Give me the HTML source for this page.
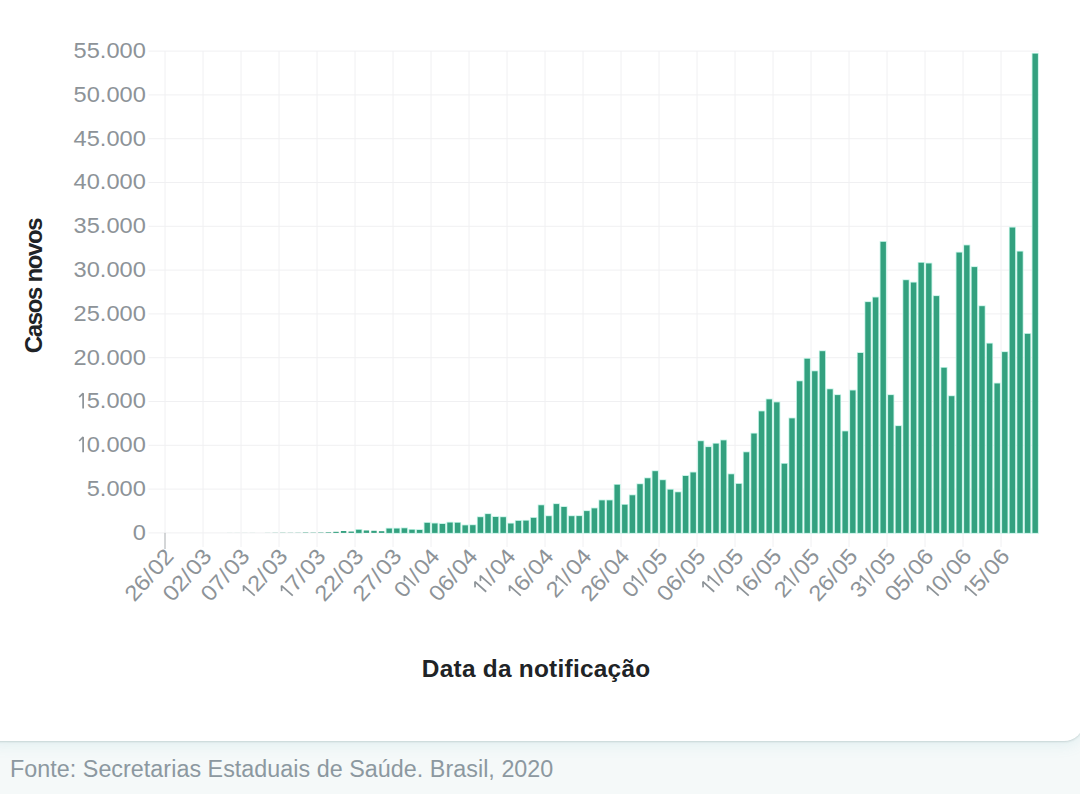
<!DOCTYPE html><html><head><meta charset="utf-8"><style>
html,body{margin:0;padding:0;width:1080px;height:794px;overflow:hidden;background:#f5f9f9;}
body{position:relative;font-family:"Liberation Sans",sans-serif;}
.card{position:absolute;left:-20px;top:-20px;width:1103.9px;height:761.2px;background:#fff;border-radius:20px;box-shadow:0 1px 2px rgba(70,100,100,0.2),0 5px 14px rgba(80,170,180,0.10);}
svg{position:absolute;left:0;top:0;}
</style></head><body><div class="card"></div>
<svg width="1080" height="794" viewBox="0 0 1080 794">
<g stroke="#f0f0f2" stroke-width="1" fill="none">
<line x1="148.5" y1="51.10" x2="1039.00" y2="51.10"/>
<line x1="148.5" y1="94.90" x2="1039.00" y2="94.90"/>
<line x1="148.5" y1="138.70" x2="1039.00" y2="138.70"/>
<line x1="148.5" y1="182.50" x2="1039.00" y2="182.50"/>
<line x1="148.5" y1="226.30" x2="1039.00" y2="226.30"/>
<line x1="148.5" y1="270.10" x2="1039.00" y2="270.10"/>
<line x1="148.5" y1="313.90" x2="1039.00" y2="313.90"/>
<line x1="148.5" y1="357.70" x2="1039.00" y2="357.70"/>
<line x1="148.5" y1="401.50" x2="1039.00" y2="401.50"/>
<line x1="148.5" y1="445.30" x2="1039.00" y2="445.30"/>
<line x1="148.5" y1="489.10" x2="1039.00" y2="489.10"/>
<line x1="148.5" y1="532.90" x2="1039.00" y2="532.90"/>
<line x1="165.00" y1="51.10" x2="165.00" y2="532.90"/>
<line x1="203.00" y1="51.10" x2="203.00" y2="547.00"/>
<line x1="241.00" y1="51.10" x2="241.00" y2="547.00"/>
<line x1="279.00" y1="51.10" x2="279.00" y2="547.00"/>
<line x1="317.00" y1="51.10" x2="317.00" y2="547.00"/>
<line x1="355.00" y1="51.10" x2="355.00" y2="547.00"/>
<line x1="393.00" y1="51.10" x2="393.00" y2="547.00"/>
<line x1="431.00" y1="51.10" x2="431.00" y2="547.00"/>
<line x1="469.00" y1="51.10" x2="469.00" y2="547.00"/>
<line x1="507.00" y1="51.10" x2="507.00" y2="547.00"/>
<line x1="545.00" y1="51.10" x2="545.00" y2="547.00"/>
<line x1="583.00" y1="51.10" x2="583.00" y2="547.00"/>
<line x1="621.00" y1="51.10" x2="621.00" y2="547.00"/>
<line x1="659.00" y1="51.10" x2="659.00" y2="547.00"/>
<line x1="697.00" y1="51.10" x2="697.00" y2="547.00"/>
<line x1="735.00" y1="51.10" x2="735.00" y2="547.00"/>
<line x1="773.00" y1="51.10" x2="773.00" y2="547.00"/>
<line x1="811.00" y1="51.10" x2="811.00" y2="547.00"/>
<line x1="849.00" y1="51.10" x2="849.00" y2="547.00"/>
<line x1="887.00" y1="51.10" x2="887.00" y2="547.00"/>
<line x1="925.00" y1="51.10" x2="925.00" y2="547.00"/>
<line x1="963.00" y1="51.10" x2="963.00" y2="547.00"/>
<line x1="1001.00" y1="51.10" x2="1001.00" y2="547.00"/>
</g>
<line x1="165.00" y1="532.90" x2="165.00" y2="549" stroke="#a9adb0" stroke-width="1"/>
<g fill="#33a17f" stroke="#bff2e4" stroke-width="1.6" paint-order="stroke">
<rect x="166.10" y="532.89" width="5.40" height="0.01" stroke="none"/>
<rect x="188.90" y="532.89" width="5.40" height="0.01" stroke="none"/>
<rect x="219.30" y="532.89" width="5.40" height="0.01" stroke="none"/>
<rect x="226.90" y="532.86" width="5.40" height="0.04" stroke="none"/>
<rect x="234.50" y="532.86" width="5.40" height="0.04" stroke="none"/>
<rect x="242.10" y="532.85" width="5.40" height="0.05" stroke="none"/>
<rect x="249.70" y="532.85" width="5.40" height="0.05" stroke="none"/>
<rect x="264.90" y="532.82" width="5.40" height="0.08" stroke="none"/>
<rect x="272.50" y="532.74" width="5.40" height="0.16" stroke="none"/>
<rect x="280.10" y="532.68" width="5.40" height="0.22" stroke="none"/>
<rect x="287.70" y="532.72" width="5.40" height="0.18" stroke="none"/>
<rect x="295.30" y="532.70" width="5.40" height="0.20" stroke="none"/>
<rect x="302.90" y="532.50" width="5.40" height="0.40" stroke="none"/>
<rect x="310.50" y="532.60" width="5.40" height="0.30" stroke="none"/>
<rect x="318.10" y="532.50" width="5.40" height="0.40" stroke="none"/>
<rect x="325.70" y="532.30" width="5.40" height="0.60" stroke="none"/>
<rect x="333.30" y="531.81" width="5.40" height="1.09" stroke="none"/>
<rect x="340.90" y="531.02" width="5.40" height="1.88" stroke="none"/>
<rect x="348.50" y="531.54" width="5.40" height="1.36" stroke="none"/>
<rect x="356.10" y="529.84" width="5.40" height="3.06"/>
<rect x="363.70" y="530.48" width="5.40" height="2.42" stroke="none"/>
<rect x="371.30" y="530.78" width="5.40" height="2.12" stroke="none"/>
<rect x="378.90" y="531.20" width="5.40" height="1.70" stroke="none"/>
<rect x="386.50" y="528.60" width="5.40" height="4.30"/>
<rect x="394.10" y="528.60" width="5.40" height="4.30"/>
<rect x="401.70" y="528.30" width="5.40" height="4.60"/>
<rect x="409.30" y="529.80" width="5.40" height="3.10"/>
<rect x="416.90" y="530.00" width="5.40" height="2.90"/>
<rect x="424.50" y="522.90" width="5.40" height="10.00"/>
<rect x="432.10" y="523.50" width="5.40" height="9.40"/>
<rect x="439.70" y="524.00" width="5.40" height="8.90"/>
<rect x="447.30" y="522.60" width="5.40" height="10.30"/>
<rect x="454.90" y="522.80" width="5.40" height="10.10"/>
<rect x="462.50" y="525.40" width="5.40" height="7.50"/>
<rect x="470.10" y="525.20" width="5.40" height="7.70"/>
<rect x="477.70" y="517.20" width="5.40" height="15.70"/>
<rect x="485.30" y="514.10" width="5.40" height="18.80"/>
<rect x="492.90" y="517.00" width="5.40" height="15.90"/>
<rect x="500.50" y="517.20" width="5.40" height="15.70"/>
<rect x="508.10" y="523.60" width="5.40" height="9.30"/>
<rect x="515.70" y="520.90" width="5.40" height="12.00"/>
<rect x="523.30" y="520.70" width="5.40" height="12.20"/>
<rect x="530.90" y="517.90" width="5.40" height="15.00"/>
<rect x="538.50" y="505.30" width="5.40" height="27.60"/>
<rect x="546.10" y="516.20" width="5.40" height="16.70"/>
<rect x="553.70" y="504.10" width="5.40" height="28.80"/>
<rect x="561.30" y="507.00" width="5.40" height="25.90"/>
<rect x="568.90" y="516.20" width="5.40" height="16.70"/>
<rect x="576.50" y="516.10" width="5.40" height="16.80"/>
<rect x="584.10" y="511.10" width="5.40" height="21.80"/>
<rect x="591.70" y="508.40" width="5.40" height="24.50"/>
<rect x="599.30" y="500.40" width="5.40" height="32.50"/>
<rect x="606.90" y="500.40" width="5.40" height="32.50"/>
<rect x="614.50" y="484.80" width="5.40" height="48.10"/>
<rect x="622.10" y="504.80" width="5.40" height="28.10"/>
<rect x="629.70" y="495.30" width="5.40" height="37.60"/>
<rect x="637.30" y="484.20" width="5.40" height="48.70"/>
<rect x="644.90" y="478.30" width="5.40" height="54.60"/>
<rect x="652.50" y="471.20" width="5.40" height="61.70"/>
<rect x="660.10" y="480.20" width="5.40" height="52.70"/>
<rect x="667.70" y="489.70" width="5.40" height="43.20"/>
<rect x="675.30" y="492.30" width="5.40" height="40.60"/>
<rect x="682.90" y="476.00" width="5.40" height="56.90"/>
<rect x="690.50" y="472.50" width="5.40" height="60.40"/>
<rect x="698.10" y="441.20" width="5.40" height="91.70"/>
<rect x="705.70" y="447.10" width="5.40" height="85.80"/>
<rect x="713.30" y="443.70" width="5.40" height="89.20"/>
<rect x="720.90" y="440.40" width="5.40" height="92.50"/>
<rect x="728.50" y="474.30" width="5.40" height="58.60"/>
<rect x="736.10" y="483.90" width="5.40" height="49.00"/>
<rect x="743.70" y="452.30" width="5.40" height="80.60"/>
<rect x="751.30" y="433.60" width="5.40" height="99.30"/>
<rect x="758.90" y="411.40" width="5.40" height="121.50"/>
<rect x="766.50" y="399.40" width="5.40" height="133.50"/>
<rect x="774.10" y="402.40" width="5.40" height="130.50"/>
<rect x="781.70" y="463.80" width="5.40" height="69.10"/>
<rect x="789.30" y="418.40" width="5.40" height="114.50"/>
<rect x="796.90" y="381.30" width="5.40" height="151.60"/>
<rect x="804.50" y="358.80" width="5.40" height="174.10"/>
<rect x="812.10" y="371.30" width="5.40" height="161.60"/>
<rect x="819.70" y="351.20" width="5.40" height="181.70"/>
<rect x="827.30" y="389.30" width="5.40" height="143.60"/>
<rect x="834.90" y="395.10" width="5.40" height="137.80"/>
<rect x="842.50" y="431.40" width="5.40" height="101.50"/>
<rect x="850.10" y="390.50" width="5.40" height="142.40"/>
<rect x="857.70" y="353.00" width="5.40" height="179.90"/>
<rect x="865.30" y="302.10" width="5.40" height="230.80"/>
<rect x="872.90" y="297.50" width="5.40" height="235.40"/>
<rect x="880.50" y="241.90" width="5.40" height="291.00"/>
<rect x="888.10" y="395.10" width="5.40" height="137.80"/>
<rect x="895.70" y="426.10" width="5.40" height="106.80"/>
<rect x="903.30" y="280.20" width="5.40" height="252.70"/>
<rect x="910.90" y="282.60" width="5.40" height="250.30"/>
<rect x="918.50" y="262.80" width="5.40" height="270.10"/>
<rect x="926.10" y="263.50" width="5.40" height="269.40"/>
<rect x="933.70" y="296.10" width="5.40" height="236.80"/>
<rect x="941.30" y="367.80" width="5.40" height="165.10"/>
<rect x="948.90" y="396.20" width="5.40" height="136.70"/>
<rect x="956.50" y="252.60" width="5.40" height="280.30"/>
<rect x="964.10" y="245.40" width="5.40" height="287.50"/>
<rect x="971.70" y="267.10" width="5.40" height="265.80"/>
<rect x="979.30" y="306.20" width="5.40" height="226.70"/>
<rect x="986.90" y="343.60" width="5.40" height="189.30"/>
<rect x="994.50" y="383.50" width="5.40" height="149.40"/>
<rect x="1002.10" y="352.10" width="5.40" height="180.80"/>
<rect x="1009.70" y="227.60" width="5.40" height="305.30"/>
<rect x="1017.30" y="251.60" width="5.40" height="281.30"/>
<rect x="1024.90" y="333.90" width="5.40" height="199.00"/>
<rect x="1032.50" y="53.70" width="5.40" height="479.20"/>
</g>
<g fill="#8d9398" font-family="Liberation Sans, sans-serif" font-size="22">
<g transform="translate(145.8 58.00) scale(1.073 1)"><text x="-67.29 -55.06 -42.82 -36.71 -24.47 -12.24" y="0.00">55.000</text></g>
<g transform="translate(145.8 101.80) scale(1.073 1)"><text x="-67.29 -55.06 -42.82 -36.71 -24.47 -12.24" y="0.00">50.000</text></g>
<g transform="translate(145.8 145.60) scale(1.073 1)"><text x="-67.29 -55.06 -42.82 -36.71 -24.47 -12.24" y="0.00">45.000</text></g>
<g transform="translate(145.8 189.40) scale(1.073 1)"><text x="-67.29 -55.06 -42.82 -36.71 -24.47 -12.24" y="0.00">40.000</text></g>
<g transform="translate(145.8 233.20) scale(1.073 1)"><text x="-67.29 -55.06 -42.82 -36.71 -24.47 -12.24" y="0.00">35.000</text></g>
<g transform="translate(145.8 277.00) scale(1.073 1)"><text x="-67.29 -55.06 -42.82 -36.71 -24.47 -12.24" y="0.00">30.000</text></g>
<g transform="translate(145.8 320.80) scale(1.073 1)"><text x="-67.29 -55.06 -42.82 -36.71 -24.47 -12.24" y="0.00">25.000</text></g>
<g transform="translate(145.8 364.60) scale(1.073 1)"><text x="-67.29 -55.06 -42.82 -36.71 -24.47 -12.24" y="0.00">20.000</text></g>
<g transform="translate(145.8 408.40) scale(1.073 1)"><text x="-55.06 -42.82 -36.71 -24.47 -12.24" y="0.00">5.000</text><path d="M-62.10 -11.26L-58.42 -15.14L-58.42 0.00" fill="none" stroke="#8d9398" stroke-width="1.60" stroke-linejoin="bevel"/></g>
<g transform="translate(145.8 452.20) scale(1.073 1)"><text x="-55.06 -42.82 -36.71 -24.47 -12.24" y="0.00">0.000</text><path d="M-62.10 -11.26L-58.42 -15.14L-58.42 0.00" fill="none" stroke="#8d9398" stroke-width="1.60" stroke-linejoin="bevel"/></g>
<g transform="translate(145.8 496.00) scale(1.073 1)"><text x="-55.06 -42.82 -36.71 -24.47 -12.24" y="0.00">5.000</text></g>
<g transform="translate(145.8 539.80) scale(1.073 1)"><text x="-12.24" y="0.00">0</text></g>
</g>
<g fill="#8d9398" font-family="Liberation Sans, sans-serif" font-size="22">
<g transform="translate(169.20 552) rotate(-48.5) scale(1.088 1)"><text x="-56.21 -43.97 -31.73 -24.47 -12.24" y="7.62">26/02</text></g>
<g transform="translate(207.20 552) rotate(-48.5) scale(1.088 1)"><text x="-56.21 -43.97 -31.73 -24.47 -12.24" y="7.62">02/03</text></g>
<g transform="translate(245.20 552) rotate(-48.5) scale(1.088 1)"><text x="-56.21 -43.97 -31.73 -24.47 -12.24" y="7.62">07/03</text></g>
<g transform="translate(283.20 552) rotate(-48.5) scale(1.088 1)"><text x="-43.97 -31.73 -24.47 -12.24" y="7.62">2/03</text><path d="M-51.01 -3.64L-47.34 -7.52L-47.34 7.62" fill="none" stroke="#8d9398" stroke-width="1.60" stroke-linejoin="bevel"/></g>
<g transform="translate(321.20 552) rotate(-48.5) scale(1.088 1)"><text x="-43.97 -31.73 -24.47 -12.24" y="7.62">7/03</text><path d="M-51.01 -3.64L-47.34 -7.52L-47.34 7.62" fill="none" stroke="#8d9398" stroke-width="1.60" stroke-linejoin="bevel"/></g>
<g transform="translate(359.20 552) rotate(-48.5) scale(1.088 1)"><text x="-56.21 -43.97 -31.73 -24.47 -12.24" y="7.62">22/03</text></g>
<g transform="translate(397.20 552) rotate(-48.5) scale(1.088 1)"><text x="-56.21 -43.97 -31.73 -24.47 -12.24" y="7.62">27/03</text></g>
<g transform="translate(435.20 552) rotate(-48.5) scale(1.088 1)"><text x="-51.45 -31.73 -24.47 -12.24" y="7.62">0/04</text><path d="M-38.77 -3.64L-35.10 -7.52L-35.10 7.62" fill="none" stroke="#8d9398" stroke-width="1.60" stroke-linejoin="bevel"/></g>
<g transform="translate(473.20 552) rotate(-48.5) scale(1.088 1)"><text x="-56.21 -43.97 -31.73 -24.47 -12.24" y="7.62">06/04</text></g>
<g transform="translate(511.20 552) rotate(-48.5) scale(1.088 1)"><text x="-31.73 -24.47 -12.24" y="7.62">/04</text><path d="M-46.25 -3.64L-42.58 -7.52L-42.58 7.62M-38.77 -3.64L-35.10 -7.52L-35.10 7.62" fill="none" stroke="#8d9398" stroke-width="1.60" stroke-linejoin="bevel"/></g>
<g transform="translate(549.20 552) rotate(-48.5) scale(1.088 1)"><text x="-43.97 -31.73 -24.47 -12.24" y="7.62">6/04</text><path d="M-51.01 -3.64L-47.34 -7.52L-47.34 7.62" fill="none" stroke="#8d9398" stroke-width="1.60" stroke-linejoin="bevel"/></g>
<g transform="translate(587.20 552) rotate(-48.5) scale(1.088 1)"><text x="-51.45 -31.73 -24.47 -12.24" y="7.62">2/04</text><path d="M-38.77 -3.64L-35.10 -7.52L-35.10 7.62" fill="none" stroke="#8d9398" stroke-width="1.60" stroke-linejoin="bevel"/></g>
<g transform="translate(625.20 552) rotate(-48.5) scale(1.088 1)"><text x="-56.21 -43.97 -31.73 -24.47 -12.24" y="7.62">26/04</text></g>
<g transform="translate(663.20 552) rotate(-48.5) scale(1.088 1)"><text x="-51.45 -31.73 -24.47 -12.24" y="7.62">0/05</text><path d="M-38.77 -3.64L-35.10 -7.52L-35.10 7.62" fill="none" stroke="#8d9398" stroke-width="1.60" stroke-linejoin="bevel"/></g>
<g transform="translate(701.20 552) rotate(-48.5) scale(1.088 1)"><text x="-56.21 -43.97 -31.73 -24.47 -12.24" y="7.62">06/05</text></g>
<g transform="translate(739.20 552) rotate(-48.5) scale(1.088 1)"><text x="-31.73 -24.47 -12.24" y="7.62">/05</text><path d="M-46.25 -3.64L-42.58 -7.52L-42.58 7.62M-38.77 -3.64L-35.10 -7.52L-35.10 7.62" fill="none" stroke="#8d9398" stroke-width="1.60" stroke-linejoin="bevel"/></g>
<g transform="translate(777.20 552) rotate(-48.5) scale(1.088 1)"><text x="-43.97 -31.73 -24.47 -12.24" y="7.62">6/05</text><path d="M-51.01 -3.64L-47.34 -7.52L-47.34 7.62" fill="none" stroke="#8d9398" stroke-width="1.60" stroke-linejoin="bevel"/></g>
<g transform="translate(815.20 552) rotate(-48.5) scale(1.088 1)"><text x="-51.45 -31.73 -24.47 -12.24" y="7.62">2/05</text><path d="M-38.77 -3.64L-35.10 -7.52L-35.10 7.62" fill="none" stroke="#8d9398" stroke-width="1.60" stroke-linejoin="bevel"/></g>
<g transform="translate(853.20 552) rotate(-48.5) scale(1.088 1)"><text x="-56.21 -43.97 -31.73 -24.47 -12.24" y="7.62">26/05</text></g>
<g transform="translate(891.20 552) rotate(-48.5) scale(1.088 1)"><text x="-51.45 -31.73 -24.47 -12.24" y="7.62">3/05</text><path d="M-38.77 -3.64L-35.10 -7.52L-35.10 7.62" fill="none" stroke="#8d9398" stroke-width="1.60" stroke-linejoin="bevel"/></g>
<g transform="translate(929.20 552) rotate(-48.5) scale(1.088 1)"><text x="-56.21 -43.97 -31.73 -24.47 -12.24" y="7.62">05/06</text></g>
<g transform="translate(967.20 552) rotate(-48.5) scale(1.088 1)"><text x="-43.97 -31.73 -24.47 -12.24" y="7.62">0/06</text><path d="M-51.01 -3.64L-47.34 -7.52L-47.34 7.62" fill="none" stroke="#8d9398" stroke-width="1.60" stroke-linejoin="bevel"/></g>
<g transform="translate(1005.20 552) rotate(-48.5) scale(1.088 1)"><text x="-43.97 -31.73 -24.47 -12.24" y="7.62">5/06</text><path d="M-51.01 -3.64L-47.34 -7.52L-47.34 7.62" fill="none" stroke="#8d9398" stroke-width="1.60" stroke-linejoin="bevel"/></g>
</g>
<text transform="translate(42 285.9) rotate(-90)" text-anchor="middle" font-family="Liberation Sans, sans-serif" font-weight="bold" font-size="24" letter-spacing="-1.35" fill="#202326">Casos novos</text>
<text x="536.1" y="677.4" text-anchor="middle" font-family="Liberation Sans, sans-serif" font-weight="bold" font-size="24.4" letter-spacing="0.26" fill="#202326">Data da notificação</text>
</svg>
<svg width="1080" height="794" viewBox="0 0 1080 794"><text x="10" y="776.5" font-family="Liberation Sans, sans-serif" font-size="23.3" letter-spacing="0.04" fill="#8c98a0">Fonte: Secretarias Estaduais de Saúde. Brasil, 2020</text></svg>
</body></html>
